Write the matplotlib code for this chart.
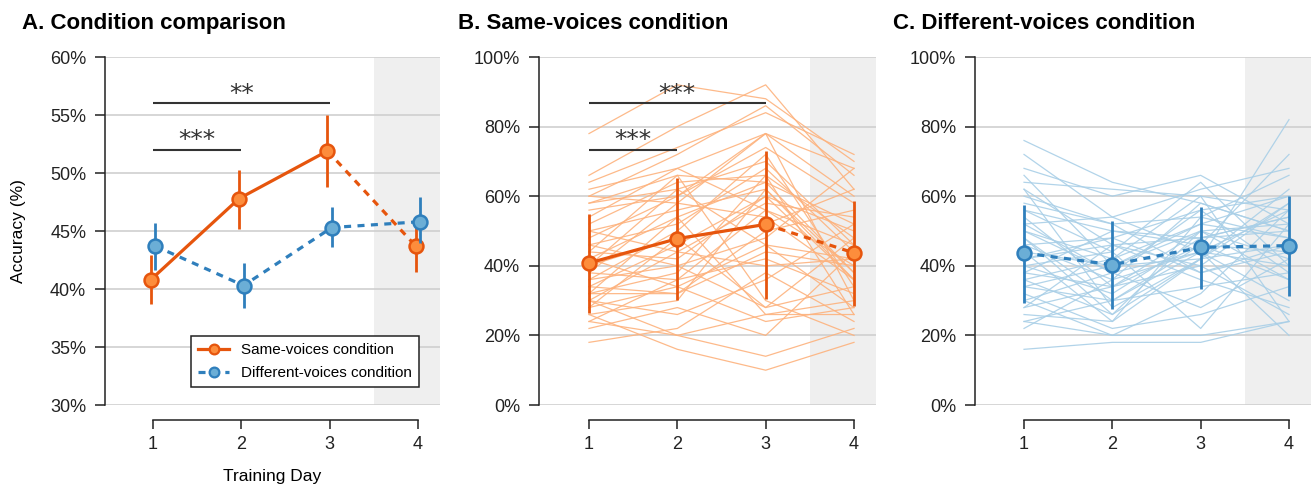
import numpy as np
import matplotlib.pyplot as plt
from matplotlib import ticker

plt.rcParams["font.family"] = ["Liberation Sans", "DejaVu Sans"]
plt.rcParams["axes.linewidth"] = 1.1

# ---------------------------------------------------------------------------
# data (accuracy in %)
days = [1, 2, 3, 4]

# panel A: condition means with SE bars
same_mean = [40.8, 47.8, 51.9, 43.7]
same_se_lo = [38.7, 45.2, 48.8, 41.5]
same_se_hi = [42.9, 50.3, 55.0, 45.5]
diff_mean = [43.7, 40.3, 45.3, 45.8]
diff_se_lo = [41.6, 38.4, 43.6, 44.0]
diff_se_hi = [45.7, 42.2, 47.1, 47.9]

# panels B / C: SD bars
same_sd_lo = [26.3, 30.3, 30.6, 28.5]
same_sd_hi = [54.8, 65.1, 72.9, 58.7]
diff_sd_lo = [29.4, 27.5, 33.4, 31.4]
diff_sd_hi = [57.6, 52.9, 56.9, 60.0]

# individual participants, same-voices condition (day 1..4)
same_subj = [
    [78, 92, 88, 70], [66, 80, 92, 62], [64, 74, 84, 72], [62, 68, 78, 68],
    [60, 72, 86, 66], [60, 58, 78, 60], [58, 66, 64, 52], [58, 62, 70, 46],
    [56, 60, 74, 58], [54, 68, 56, 40], [52, 64, 66, 48], [50, 56, 62, 36],
    [50, 44, 58, 54], [48, 60, 78, 30], [46, 52, 68, 44], [44, 42, 60, 50],
    [42, 54, 64, 38], [40, 48, 52, 62], [40, 62, 46, 42], [38, 36, 56, 46],
    [36, 50, 72, 34], [36, 40, 28, 48], [34, 46, 60, 36], [34, 32, 44, 40],
    [32, 54, 26, 30], [32, 38, 66, 26], [32, 32, 50, 56], [30, 44, 40, 42],
    [30, 26, 36, 52], [28, 48, 28, 34], [28, 34, 24, 28], [26, 30, 62, 38],
    [26, 16, 10, 18], [24, 20, 14, 22], [24, 36, 42, 32], [22, 28, 20, 44],
    [18, 22, 38, 24], [30, 20, 26, 26], [46, 40, 48, 68], [38, 58, 54, 36],
    [44, 66, 30, 20], [42, 34, 46, 28],
]

# individual participants, different-voices condition (day 1..4)
diff_subj = [
    [76, 64, 58, 50], [72, 54, 62, 68], [68, 60, 66, 52], [66, 40, 50, 36],
    [64, 62, 60, 56], [62, 46, 40, 58], [62, 28, 42, 46], [58, 52, 54, 66],
    [56, 44, 64, 40], [56, 50, 48, 54], [54, 34, 46, 72], [52, 38, 56, 38],
    [52, 54, 44, 30], [50, 42, 52, 60], [48, 30, 44, 56], [46, 48, 38, 44],
    [46, 36, 58, 50], [44, 40, 42, 82], [44, 24, 54, 48], [42, 46, 36, 28],
    [40, 32, 48, 54], [40, 44, 22, 52], [38, 34, 50, 42], [38, 50, 46, 36],
    [36, 26, 42, 58], [36, 42, 60, 24], [34, 30, 46, 44], [34, 40, 52, 48],
    [32, 22, 26, 34], [30, 38, 44, 40], [30, 20, 32, 56], [28, 34, 40, 26],
    [28, 46, 48, 50], [26, 24, 42, 62], [24, 20, 20, 24], [24, 30, 34, 38],
    [22, 36, 44, 20], [16, 18, 18, 24], [60, 52, 38, 46], [48, 26, 50, 52],
    [42, 48, 56, 60], [50, 38, 28, 42],
]

# ---------------------------------------------------------------------------
orange = "#E6550D"
orange_face = "#FD8D3C"
orange_thin = "#FDB27D"
blue = "#2F7FBC"
blue_face = "#6BAED6"
blue_thin = "#A9CFE7"
shade = "#EFEFEF"
grid_c = "#CCCCCC"
dash = (0, (2.2, 2.0))

W, H = 1313, 488
fig = plt.figure(figsize=(W / 100, H / 100), dpi=100)

bottom = 1 - 405 / H
height = (405 - 57) / H
ax_a = fig.add_axes([105 / W, bottom, 335 / W, height])
ax_b = fig.add_axes([539 / W, bottom, 337 / W, height])
ax_c = fig.add_axes([975 / W, bottom, 336 / W, height])


def style_axis(ax, ylim, yticks, left):
    ax.set_xlim(left, 4.249)
    ax.set_ylim(*ylim)
    ax.axvspan(3.5, 4.249, color=shade, zorder=0, lw=0)
    for yt in yticks:
        ax.axhline(yt, color=grid_c, lw=1.1, zorder=0.5)
    ax.set_yticks(yticks)
    ax.yaxis.set_major_formatter(ticker.PercentFormatter(decimals=0))
    ax.set_xticks(days)
    for s in ["top", "right"]:
        ax.spines[s].set_visible(False)
    ax.spines["bottom"].set_position(("outward", 10.5))
    ax.spines["bottom"].set_bounds(1, 4)
    ax.spines["left"].set_bounds(*ylim)
    for s in ["bottom", "left"]:
        ax.spines[s].set_color("#222222")
    ax.tick_params(axis="y", length=7, width=1.1, labelsize=13, pad=6.5,
                   colors="#222222")
    ax.tick_params(axis="x", length=6.5, width=1.1, labelsize=13, pad=5,
                   colors="#222222")


def summary(ax, x, mean, lo, hi, color, face, solid_to, zo=5):
    x = np.asarray(x, dtype=float)
    ax.vlines(x, lo, hi, color=color, lw=2.0, zorder=zo)
    if solid_to > 0:
        ax.plot(x[: solid_to + 1], mean[: solid_to + 1], color=color, lw=2.3,
                zorder=zo, solid_capstyle="butt")
    ax.plot(x[solid_to:], mean[solid_to:], color=color, lw=2.3,
            linestyle=dash, zorder=zo)
    ax.plot(x, mean, "o", ms=10, mfc=face, mec=color, mew=1.8, zorder=zo + 1)


def sig_bar(ax, x0, x1, y, label, dy):
    ax.plot([x0, x1], [y, y], color="#333333", lw=1.5, zorder=3,
            solid_capstyle="butt")
    ax.text((x0 + x1) / 2, y + dy, label, ha="center", va="baseline",
            fontsize=18, family="DejaVu Sans", color="#333333", zorder=3)


# ---------------------------------------------------------------------------
# A. condition comparison
style_axis(ax_a, (30, 60), [30, 35, 40, 45, 50, 55, 60], 0.4566)
off = 0.025
summary(ax_a, np.array(days) - off, same_mean, same_se_lo, same_se_hi,
        orange, orange_face, 2, zo=5)
summary(ax_a, np.array(days) + off, diff_mean, diff_se_lo, diff_se_hi,
        blue, blue_face, 0, zo=7)
sig_bar(ax_a, 1, 2, 52.0, "***", 0.2)
sig_bar(ax_a, 1, 3, 56.0, "**", 0.2)
ax_a.set_xlabel("Training Day", fontsize=12.5, labelpad=12)
ax_a.set_ylabel("Accuracy (%)", fontsize=12.5)
ax_a.yaxis.set_label_coords(-0.235, 0.5)

h1, = ax_a.plot([], [], color=orange, lw=2.3, marker="o", ms=7,
                mfc=orange_face, mec=orange, mew=1.6,
                label="Same-voices condition")
h2, = ax_a.plot([], [], color=blue, lw=2.3, linestyle=dash, marker="o", ms=7,
                mfc=blue_face, mec=blue, mew=1.6,
                label="Different-voices condition")
leg = ax_a.legend(handles=[h1, h2], loc="lower right",
                  bbox_to_anchor=(0.937, 0.052), borderaxespad=0,
                  fontsize=11, fancybox=False, framealpha=1,
                  edgecolor="#222222", handlelength=2.0, handletextpad=0.8,
                  borderpad=0.45, labelspacing=0.6)
leg.get_frame().set_linewidth(1.1)
leg.set_zorder(10)

# B. same-voices condition
style_axis(ax_b, (0, 100), [0, 20, 40, 60, 80, 100], 0.434)
for row in same_subj:
    ax_b.plot(days, row, color=orange_thin, lw=0.9, alpha=0.9, zorder=1)
summary(ax_b, days, same_mean, same_sd_lo, same_sd_hi, orange, orange_face, 2)
sig_bar(ax_b, 1, 2, 73.3, "***", 0.7)
sig_bar(ax_b, 1, 3, 86.7, "***", 0.7)

# C. different-voices condition
style_axis(ax_c, (0, 100), [0, 20, 40, 60, 80, 100], 0.445)
for row in diff_subj:
    ax_c.plot(days, row, color=blue_thin, lw=0.9, alpha=0.9, zorder=1)
summary(ax_c, days, diff_mean, diff_sd_lo, diff_sd_hi, blue, blue_face, 0)

for x, title in [(22, "A. Condition comparison"),
                 (458, "B. Same-voices condition"),
                 (893, "C. Different-voices condition")]:
    fig.text(x / W, 1 - 29 / H, title, fontsize=16, fontweight="bold",
             ha="left", va="baseline")

fig.savefig("out.png", dpi=100)
